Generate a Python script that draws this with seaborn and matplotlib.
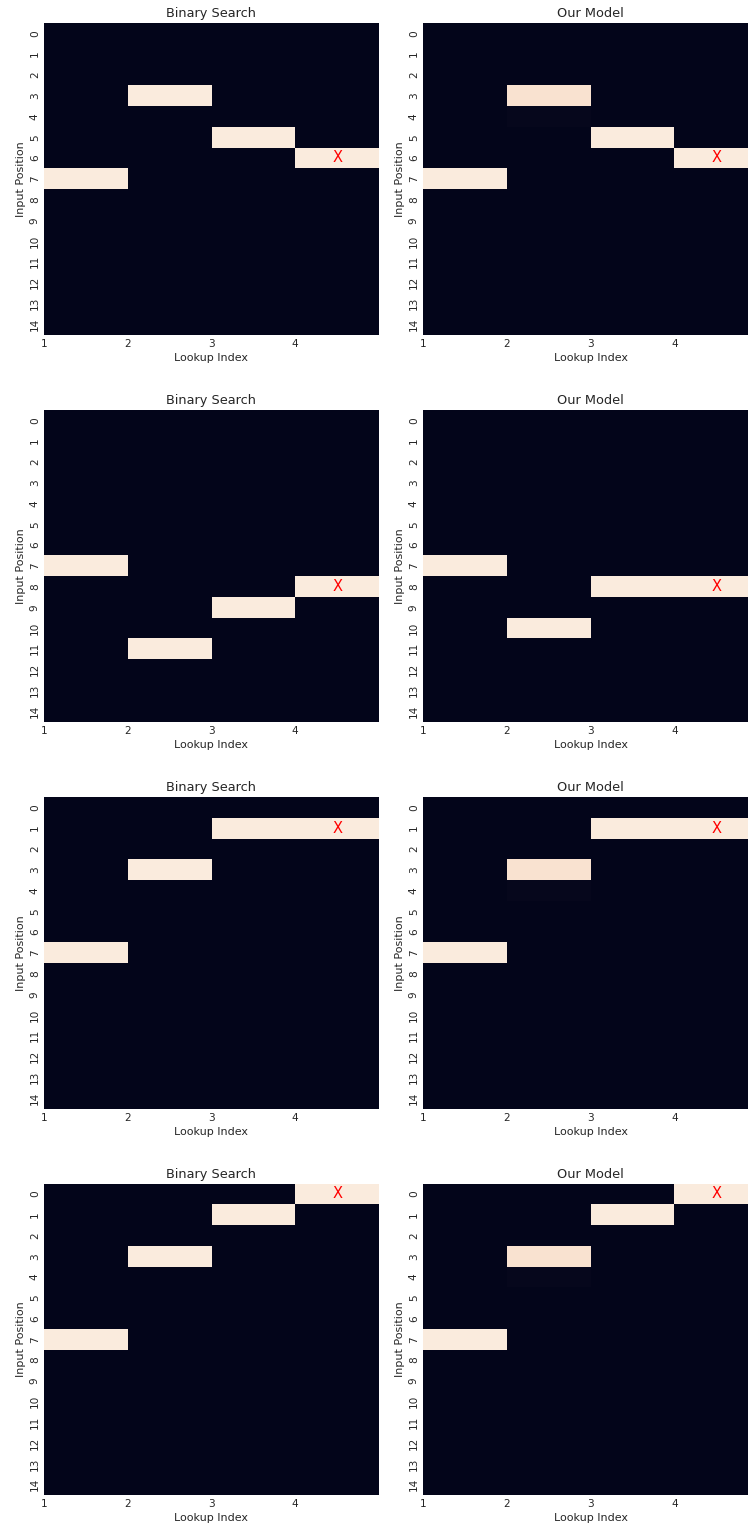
import numpy as np
import pandas as pd
import seaborn as sns
import matplotlib
matplotlib.use("Agg")
import matplotlib.pyplot as plt

# Lookup steps (columns) and input positions (rows)
lookup_labels = [1, 2, 3, 4]
input_positions = list(range(15))

# Binary search: position visited at each lookup step, one list per example
binary_search_rows = [
    [7, 3, 5, 6],
    [7, 11, 9, 8],
    [7, 3, 1, 1],
    [7, 3, 1, 0],
]

# Model: attention peak per lookup step and its weight
model_rows = [
    [7, 3, 5, 6],
    [7, 10, 8, 8],
    [7, 3, 1, 1],
    [7, 3, 1, 0],
]
model_weights = [
    [1.0, 0.975, 1.0, 1.0],
    [1.0, 1.0, 1.0, 1.0],
    [1.0, 0.975, 1.0, 1.0],
    [1.0, 0.975, 1.0, 1.0],
]
# Small leftover attention: (row, lookup step, weight), per example
model_spill = [
    [(4, 1, 0.015)],
    [],
    [(4, 1, 0.015)],
    [(4, 1, 0.015)],
]

panel_titles = ["Binary Search", "Our Model"]


def build_matrix(rows, weights, extra=()):
    mat = np.zeros((len(input_positions), len(lookup_labels)))
    for col, (r, w) in enumerate(zip(rows, weights)):
        mat[r, col] = w
    for r, c, w in extra:
        mat[r, c] = w
    return pd.DataFrame(mat, index=input_positions, columns=lookup_labels)


sns.set_theme(style="white")
plt.rcParams["font.family"] = ["DejaVu Sans"]

W, H = 748, 1532
fig = plt.figure(figsize=(W / 100, H / 100), dpi=100)

ax_w, ax_h = 335, 311.5
lefts = [44, 423]
tops = [23, 410, 797, 1183.5]

for i in range(4):
    bs = build_matrix(binary_search_rows[i], [1.0] * 4)
    om = build_matrix(model_rows[i], model_weights[i], model_spill[i])
    for j, (data, rows) in enumerate([(bs, binary_search_rows[i]),
                                      (om, model_rows[i])]):
        ax = fig.add_axes([lefts[j] / W, 1 - (tops[i] + ax_h) / H,
                           ax_w / W, ax_h / H])
        sns.heatmap(data, ax=ax, cmap="rocket", cbar=False,
                    vmin=0, vmax=1)
        ax.set_xticks(range(len(lookup_labels)))
        ax.set_xticklabels(lookup_labels, rotation=0, fontsize=7.6)
        ax.set_yticks(np.arange(len(input_positions)) + 0.5)
        ax.set_yticklabels(input_positions, rotation=90, fontsize=7.6,
                           va="center")
        ax.tick_params(length=0, pad=3)
        ax.set_xlabel("Lookup Index", fontsize=8, labelpad=3)
        ax.set_ylabel("Input Position", fontsize=8, labelpad=3)
        ax.set_title(panel_titles[j], fontsize=9.3, pad=4)
        # final retrieved position
        ax.text(len(lookup_labels) - 0.5, rows[-1] + 0.5, "X",
                color="red", fontsize=10.5, ha="center", va="center")

fig.savefig("out.png", dpi=100)
